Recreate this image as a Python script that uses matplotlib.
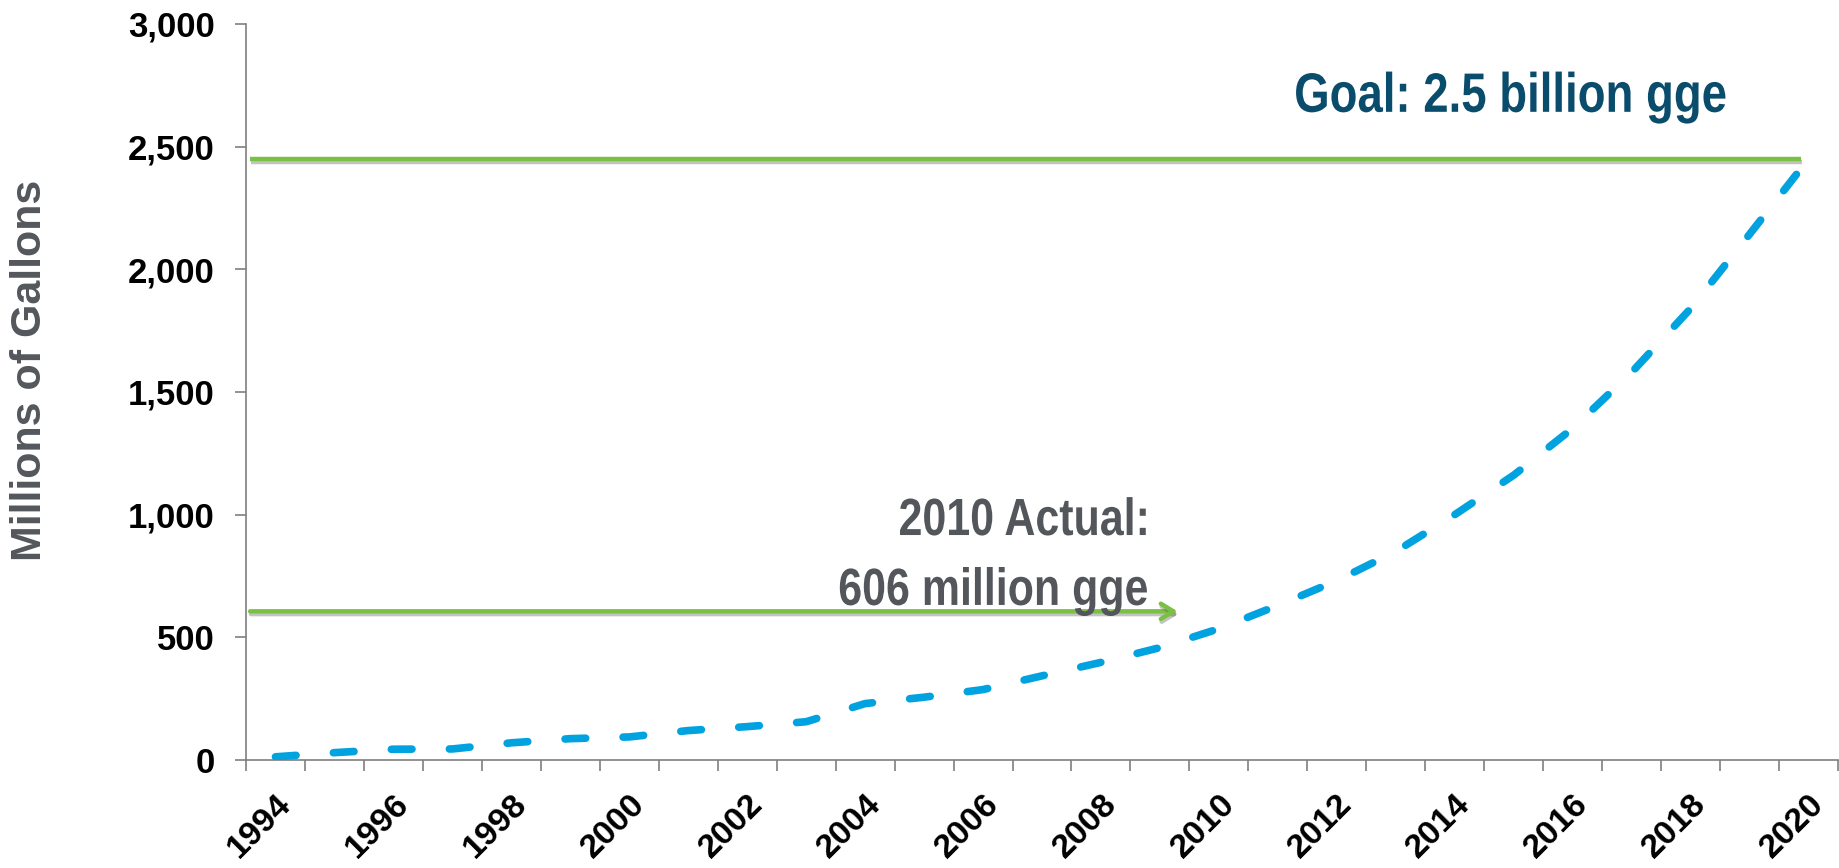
import matplotlib
matplotlib.use("Agg")
import matplotlib.pyplot as plt
import matplotlib.patheffects as pe
from matplotlib.ticker import FuncFormatter
from matplotlib.transforms import ScaledTranslation, Affine2D
from matplotlib.textpath import TextPath
from matplotlib.patches import PathPatch
from matplotlib.font_manager import FontProperties

# Volume by year, millions of gallons (gge)
years = list(range(1994, 2021))
volume = [13, 30, 44, 45, 70, 87, 94, 120, 136, 156, 230, 256, 287, 343, 398, 458,
          535, 630, 731, 850, 1000, 1161, 1352, 1580, 1840, 2143, 2450]

goal_mgal = 2450
actual_year = 2010
actual_mgal = 606

label_years = years[::2]

GREEN = "#7ac143"
BLUE = "#00a3e0"
NAVY = "#0a4c6c"
GREY_TXT = "#53575c"
AXIS_GREY = "#7f7f7f"

plt.rcParams["font.family"] = ["Liberation Sans"]
BOLD = FontProperties(family="Liberation Sans", weight="bold")

fig = plt.figure(figsize=(18.4, 8.68), dpi=100)
ax = fig.add_axes([246 / 1840, 1 - 760 / 868, (1838 - 246) / 1840, (760 - 24) / 868])

ax.set_xlim(years[0] - 0.5, years[-1] + 0.5)
ax.set_ylim(0, 3000)


def narrow_text(x, y, s, size, color, ha="left", squeeze=0.82):
    # bold text squeezed horizontally (no condensed face installed)
    px = size * fig.dpi / 72
    path = TextPath((0, 0), s, size=px, prop=BOLD)
    ext = path.get_extents()
    shift = {"left": -ext.x0, "center": -(ext.x0 + ext.x1) / 2, "right": -ext.x1}[ha]
    x0, y0 = ax.transData.transform((x, y))
    tr = Affine2D().translate(shift, 0).scale(squeeze, 1).translate(x0, y0)
    fig.add_artist(PathPatch(path, transform=tr, facecolor=color, edgecolor="none"))


shadow = [pe.SimpleLineShadow(offset=(0.6, -2.0), shadow_color="#555555", alpha=0.35),
          pe.Normal()]

# projected growth curve
ax.plot(years, volume, color=BLUE, lw=5.5, dashes=(2.7, 4.9),
        dash_capstyle="round", solid_capstyle="round", zorder=3)

# 2020 goal line
ax.hlines(goal_mgal, years[0] - 0.43, years[-1] - 0.12, color=GREEN, lw=3.2,
          path_effects=shadow, zorder=2)
narrow_text(2014.95, 2642, f"Goal: {goal_mgal / 1000:.1f} billion gge", 40, NAVY,
            ha="center")

# 2010 actual arrow
ax.annotate("", xy=(actual_year - 0.7, actual_mgal), xytext=(years[0] - 0.43, actual_mgal),
            arrowprops=dict(arrowstyle="->,head_length=0.9,head_width=0.55", color=GREEN,
                            lw=3.2, shrinkA=0, shrinkB=0, path_effects=shadow), zorder=2)
narrow_text(2008.76, 917, f"{actual_year} Actual:", 37.7, GREY_TXT, ha="right")
narrow_text(2008.78, 632, f"{actual_mgal} million gge", 37.7, GREY_TXT, ha="right")

ax.set_yticks(range(0, 3001, 500))
ax.yaxis.set_major_formatter(FuncFormatter(lambda v, p: f"{int(v):,}"))

# category boundaries carry the tick marks, labels sit on every other year
ax.set_xticks([y - 0.5 for y in years] + [years[-1] + 0.5])
ax.set_xticklabels([])
ax.set_xticks(label_years, minor=True)
ax.set_xticklabels([str(y) for y in label_years], minor=True, rotation=45,
                   ha="right", va="top", rotation_mode="anchor")
for lab in ax.get_xticklabels(minor=True):
    lab.set_transform(lab.get_transform() + ScaledTranslation(0.08, 0, fig.dpi_scale_trans))

ax.tick_params(axis="both", which="major", direction="out", length=7.7, width=1.2,
               color=AXIS_GREY)
ax.tick_params(axis="y", labelsize=25, pad=15)
ax.tick_params(axis="x", which="minor", length=0, labelsize=24.5, pad=20.5)
for lab in ax.get_yticklabels() + ax.get_xticklabels(minor=True):
    lab.set_fontweight("bold")

for side in ("top", "right"):
    ax.spines[side].set_visible(False)
for side in ("left", "bottom"):
    ax.spines[side].set_color(AXIS_GREY)
    ax.spines[side].set_linewidth(1.2)

fig.text(30 / 1840, 1 - 370 / 868, "Millions of Gallons", rotation=90, ha="center",
         va="center", fontsize=31, fontweight="bold", color=GREY_TXT)

fig.savefig("out.png", dpi=100)
